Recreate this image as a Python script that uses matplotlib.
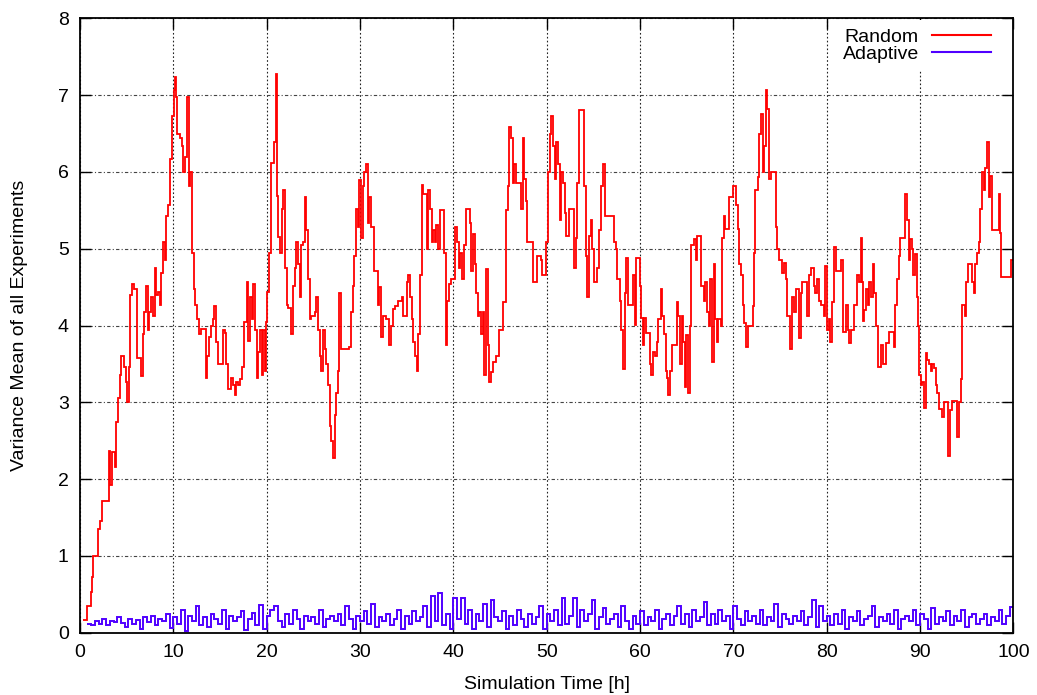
import numpy as np
import matplotlib.pyplot as plt
from matplotlib.lines import Line2D

plt.rcParams['font.family'] = ['Liberation Sans', 'DejaVu Sans']

# axis ticks
x_ticks = [0, 10, 20, 30, 40, 50, 60, 70, 80, 90, 100]
y_ticks = [0, 1, 2, 3, 4, 5, 6, 7, 8]
series_names = ['Random', 'Adaptive']

# Random: (time [h], variance) steps
random_steps = [
    (0.3, 0.17), (0.8, 0.35), (1.17, 0.53), (1.3, 0.72), (1.42, 1.0), (1.97, 1.35), (2.15, 1.45),
    (2.34, 1.72), (3.07, 2.37), (3.25, 1.92), (3.43, 2.35), (3.72, 2.16), (3.87, 2.74), (4.09, 3.05),
    (4.34, 3.36), (4.45, 3.6), (4.71, 3.46), (4.89, 3.26), (5.07, 3.0), (5.25, 3.46), (5.33, 4.4),
    (5.55, 4.54), (5.8, 4.47), (6.06, 3.58), (6.53, 3.34), (6.72, 3.89), (6.9, 4.18), (7.08, 4.51),
    (7.26, 3.94), (7.45, 4.18), (7.63, 4.37), (7.81, 4.13), (8.0, 4.75), (8.18, 4.4), (8.36, 4.44),
    (8.54, 4.27), (8.72, 4.68), (8.9, 5.09), (9.09, 4.85), (9.27, 5.43), (9.45, 5.57), (9.64, 6.17),
    (9.9, 6.73), (10.07, 7.06), (10.18, 7.23), (10.29, 6.97), (10.44, 6.49), (10.73, 6.44),
    (10.91, 6.34), (11.09, 6.0), (11.28, 6.2), (11.46, 6.97), (11.64, 5.81), (11.82, 6.0),
    (12.0, 4.95), (12.19, 4.47), (12.37, 4.27), (12.55, 4.08), (12.74, 3.89), (12.92, 3.96),
    (13.47, 3.31), (13.65, 3.6), (13.83, 3.85), (14.01, 3.99), (14.2, 4.08), (14.38, 4.25),
    (14.56, 3.79), (14.74, 3.5), (15.3, 3.94), (15.5, 3.9), (15.66, 3.5), (15.84, 3.17),
    (16.2, 3.31), (16.39, 3.22), (16.57, 3.1), (16.75, 3.27), (16.93, 3.22), (17.11, 3.3),
    (17.34, 3.46), (17.52, 4.04), (17.87, 4.56), (18.05, 3.8), (18.22, 4.37), (18.4, 4.08),
    (18.58, 4.54), (18.76, 3.94), (18.94, 3.31), (19.11, 3.65), (19.29, 3.94), (19.47, 3.36),
    (19.65, 3.94), (19.82, 3.41), (19.9, 4.04), (20.07, 4.44), (20.28, 4.95), (20.43, 6.12),
    (20.78, 6.39), (20.96, 7.28), (21.06, 5.68), (21.24, 5.15), (21.42, 4.95), (21.6, 5.52),
    (21.77, 5.76), (21.95, 4.75), (22.13, 4.27), (22.3, 4.23), (22.66, 3.89), (22.84, 4.51),
    (23.01, 4.75), (23.19, 5.09), (23.37, 4.8), (23.55, 4.37), (23.72, 5.05), (23.9, 5.09),
    (24.15, 5.67), (24.26, 5.24), (24.43, 4.61), (24.61, 4.08), (24.79, 4.13), (25.14, 4.18),
    (25.32, 4.37), (25.5, 3.94), (25.67, 3.6), (25.85, 3.41), (26.03, 3.94), (26.21, 3.7),
    (26.38, 3.5), (26.56, 3.22), (26.74, 2.69), (26.92, 2.49), (27.09, 2.28), (27.27, 2.83),
    (27.45, 3.12), (27.62, 3.41), (27.8, 4.42), (27.98, 3.7), (28.87, 3.72), (29.04, 4.18),
    (29.22, 4.51), (29.4, 4.9), (29.57, 5.52), (29.75, 5.28), (29.93, 5.9), (30.1, 5.14),
    (30.28, 5.81), (30.46, 6.0), (30.64, 6.1), (30.82, 5.33), (30.99, 5.67), (31.17, 5.28),
    (31.52, 4.71), (31.88, 4.27), (32.06, 4.5), (32.23, 3.85), (32.41, 4.13), (32.77, 4.08),
    (33.12, 3.75), (33.3, 4.0), (33.58, 4.22), (33.76, 4.25), (34.11, 4.32), (34.47, 4.37),
    (34.65, 4.13), (35.0, 4.56), (35.18, 4.66), (35.35, 4.37), (35.53, 4.08), (35.71, 3.79),
    (35.89, 3.6), (36.06, 3.41), (36.24, 3.89), (36.42, 4.66), (36.6, 5.83), (36.77, 5.71),
    (37.13, 5.0), (37.3, 5.76), (37.48, 5.52), (37.66, 5.09), (37.84, 5.24), (38.01, 5.09),
    (38.19, 5.31), (38.37, 5.0), (38.55, 5.5), (39.01, 4.95), (39.18, 3.75), (39.33, 4.32),
    (39.5, 4.54), (39.79, 4.61), (40.21, 5.28), (40.39, 5.09), (40.57, 4.75), (40.74, 4.95),
    (40.92, 4.61), (41.1, 5.05), (41.38, 5.52), (41.74, 5.33), (41.91, 4.71), (42.09, 5.19),
    (42.27, 4.8), (42.45, 4.42), (42.62, 4.13), (42.8, 4.18), (42.98, 3.89), (43.16, 4.18),
    (43.33, 3.36), (43.51, 4.73), (43.69, 3.75), (43.87, 3.26), (44.04, 3.4), (44.22, 3.53),
    (44.57, 3.6), (44.93, 3.94), (45.28, 4.3), (45.64, 5.5), (45.82, 5.81), (45.99, 6.58),
    (46.17, 6.44), (46.35, 5.86), (46.52, 6.1), (46.7, 5.86), (47.23, 5.52), (47.41, 6.44),
    (47.59, 5.91), (47.77, 5.62), (47.94, 5.09), (48.48, 4.56), (49.01, 4.9), (49.36, 4.85),
    (49.54, 4.66), (49.89, 5.09), (50.1, 5.95), (50.14, 6.0), (50.32, 6.49), (50.5, 6.73),
    (50.68, 6.34), (50.86, 5.91), (51.04, 6.39), (51.21, 6.1), (51.39, 5.38), (51.57, 6.0),
    (51.75, 5.86), (51.93, 5.47), (52.11, 5.16), (52.39, 5.52), (52.93, 4.75), (53.11, 5.14),
    (53.29, 5.86), (53.46, 6.8), (54.0, 5.81), (54.18, 4.9), (54.36, 4.37), (54.54, 5.16),
    (54.71, 5.38), (54.89, 5.0), (55.07, 4.56), (55.43, 4.75), (55.61, 5.24), (55.86, 5.81),
    (56.04, 6.1), (56.21, 5.43), (57.21, 5.09), (57.39, 5.0), (57.57, 4.61), (57.86, 4.32),
    (58.0, 3.94), (58.18, 3.43), (58.36, 4.42), (58.54, 4.88), (58.71, 4.27), (59.25, 4.66),
    (59.43, 4.01), (59.57, 4.88), (59.96, 4.52), (60.14, 4.1), (60.29, 3.75), (60.43, 4.1),
    (60.61, 3.9), (61.04, 3.5), (61.21, 3.36), (61.39, 3.65), (61.57, 3.6), (61.79, 3.79),
    (61.96, 4.08), (62.21, 4.47), (62.39, 4.13), (62.57, 3.89), (62.75, 3.41), (62.93, 3.31),
    (63.04, 3.1), (63.21, 3.41), (63.46, 3.75), (63.93, 4.3), (64.11, 4.13), (64.29, 3.5),
    (64.46, 4.13), (64.64, 3.79), (64.79, 3.2), (64.96, 3.87), (65.14, 3.12), (65.32, 3.99),
    (65.5, 5.05), (65.79, 5.12), (65.96, 4.85), (66.14, 5.16), (66.57, 4.52), (66.81, 4.32),
    (66.99, 4.56), (67.16, 4.18), (67.34, 3.99), (67.52, 4.61), (67.7, 3.53), (67.87, 4.8),
    (68.05, 4.08), (68.23, 3.79), (68.4, 4.08), (68.69, 3.99), (68.79, 5.14), (68.94, 5.43),
    (69.11, 5.26), (69.57, 5.67), (69.93, 5.81), (70.28, 5.57), (70.46, 5.26), (70.64, 4.8),
    (70.82, 4.66), (70.99, 4.27), (71.17, 4.03), (71.35, 3.72), (71.52, 3.99), (72.06, 4.25),
    (72.23, 4.95), (72.34, 5.76), (72.59, 5.93), (72.77, 6.49), (72.94, 6.75), (73.12, 6.0),
    (73.3, 6.34), (73.48, 7.06), (73.65, 6.82), (73.83, 5.91), (74.01, 6.0), (74.54, 5.28),
    (74.72, 5.0), (74.89, 4.85), (75.25, 4.68), (75.43, 4.82), (75.6, 4.61), (75.78, 4.13),
    (76.06, 3.7), (76.24, 4.37), (76.49, 4.18), (76.67, 4.47), (77.02, 3.84), (77.2, 4.42),
    (77.38, 4.56), (77.91, 4.13), (78.09, 4.66), (78.33, 4.75), (78.62, 4.51), (78.79, 4.42),
    (78.97, 4.6), (79.15, 4.32), (79.33, 4.27), (79.68, 4.13), (79.86, 4.78), (80.04, 3.94),
    (80.21, 4.08), (80.39, 3.79), (80.57, 4.3), (80.82, 5.02), (80.99, 4.71), (81.56, 4.85),
    (81.7, 3.92), (82.06, 4.27), (82.23, 3.94), (82.41, 3.77), (82.62, 3.94), (82.87, 4.27),
    (83.26, 4.66), (83.44, 4.56), (83.62, 5.14), (83.79, 4.56), (83.9, 4.06), (84.04, 4.2),
    (84.22, 4.47), (84.4, 4.27), (84.57, 4.56), (84.75, 4.37), (84.93, 4.8), (85.11, 4.42),
    (85.28, 3.99), (85.46, 3.46), (85.82, 3.74), (85.99, 3.5), (86.35, 3.77), (86.7, 3.92),
    (87.16, 3.72), (87.34, 4.27), (87.52, 4.61), (87.7, 4.9), (87.87, 5.14), (88.4, 5.71),
    (88.58, 5.38), (88.76, 4.85), (88.94, 5.12), (89.11, 5.0), (89.29, 4.66), (89.47, 4.93),
    (89.65, 4.37), (89.82, 3.99), (89.93, 3.36), (90.07, 3.22), (90.25, 3.26), (90.43, 2.93),
    (90.6, 3.64), (90.78, 3.55), (90.96, 3.5), (91.13, 3.41), (91.31, 3.5), (91.49, 3.45),
    (91.67, 3.22), (91.84, 3.12), (92.02, 2.91), (92.38, 2.81), (92.55, 3.0), (93.01, 2.3),
    (93.19, 2.9), (93.37, 3.02), (93.97, 2.55), (94.15, 3.0), (94.33, 3.3), (94.5, 4.27),
    (94.79, 4.13), (94.96, 4.56), (95.14, 4.8), (95.57, 4.56), (95.74, 4.42), (95.92, 4.8),
    (96.1, 4.95), (96.28, 5.09), (96.45, 5.52), (96.63, 6.0), (96.81, 5.76), (96.99, 6.05),
    (97.16, 6.39), (97.34, 5.67), (97.52, 5.95), (97.7, 5.24), (98.4, 5.71), (98.51, 5.21),
    (98.69, 4.63), (99.75, 4.85),
]

# Adaptive: one value every 0.4 h starting at 0.8 h
adaptive_start = 0.8
adaptive_dt = 0.4
adaptive_var = [
    0.12, 0.10, 0.15, 0.12, 0.18, 0.10, 0.15, 0.14, 0.20, 0.13,
    0.08, 0.18, 0.12, 0.16, 0.05, 0.20, 0.14, 0.22, 0.10, 0.18,
    0.15, 0.25, 0.06, 0.20, 0.12, 0.30, 0.02, 0.22, 0.15, 0.35,
    0.10, 0.20, 0.08, 0.25, 0.18, 0.12, 0.30, 0.05, 0.22, 0.15,
    0.20, 0.28, 0.03, 0.18, 0.26, 0.10, 0.36, 0.05, 0.22, 0.30,
    0.35, 0.15, 0.08, 0.25, 0.12, 0.30, 0.18, 0.05, 0.22, 0.15,
    0.20, 0.12, 0.30, 0.08, 0.18, 0.22, 0.15, 0.25, 0.10, 0.35,
    0.18, 0.05, 0.22, 0.15, 0.28, 0.12, 0.38, 0.08, 0.20, 0.15,
    0.25, 0.10, 0.18, 0.30, 0.05, 0.22, 0.12, 0.28, 0.15, 0.20,
    0.35, 0.08, 0.48, 0.15, 0.52, 0.10, 0.25, 0.05, 0.45, 0.18,
    0.45, 0.12, 0.30, 0.05, 0.25, 0.15, 0.38, 0.08, 0.42, 0.20,
    0.15, 0.28, 0.05, 0.22, 0.10, 0.30, 0.18, 0.08, 0.25, 0.12,
    0.20, 0.35, 0.05, 0.25, 0.15, 0.30, 0.10, 0.45, 0.12, 0.22,
    0.45, 0.08, 0.30, 0.15, 0.25, 0.42, 0.05, 0.20, 0.32, 0.12,
    0.18, 0.25, 0.08, 0.35, 0.15, 0.05, 0.22, 0.12, 0.28, 0.10,
    0.20, 0.15, 0.30, 0.05, 0.18, 0.25, 0.10, 0.22, 0.35, 0.12,
    0.25, 0.08, 0.30, 0.15, 0.20, 0.40, 0.10, 0.25, 0.12, 0.30,
    0.15, 0.22, 0.05, 0.35, 0.18, 0.10, 0.28, 0.15, 0.22, 0.12,
    0.30, 0.10, 0.20, 0.15, 0.38, 0.08, 0.25, 0.18, 0.12, 0.22,
    0.15, 0.28, 0.10, 0.20, 0.42, 0.08, 0.35, 0.15, 0.22, 0.10,
    0.25, 0.12, 0.30, 0.05, 0.20, 0.15, 0.28, 0.10, 0.18, 0.22,
    0.35, 0.08, 0.20, 0.15, 0.25, 0.12, 0.30, 0.05, 0.18, 0.22,
    0.15, 0.30, 0.10, 0.25, 0.18, 0.05, 0.32, 0.12, 0.20, 0.15,
    0.28, 0.10, 0.22, 0.15, 0.30, 0.08, 0.20, 0.25, 0.12, 0.18,
    0.25, 0.10, 0.20, 0.15, 0.30, 0.12, 0.22, 0.33,
]

red = '#ff0000'
blue = '#5000ff'

fig = plt.figure(figsize=(10.37, 6.95), dpi=100)
ax = fig.add_axes([0.0771, 0.0896, 0.9002, 0.8841])

rt = np.array([p[0] for p in random_steps])
rv = np.array([p[1] for p in random_steps])
ax.stairs(rv, np.append(rt, 100), baseline=None, color=red, lw=1.3)

at = adaptive_start + adaptive_dt * np.arange(len(adaptive_var))
ax.stairs(adaptive_var, np.append(at, 100), baseline=None, color=blue, lw=1.4)

ax.set_xlim(0, 100)
ax.set_ylim(0, 8)
ax.set_xticks(x_ticks)
ax.set_yticks(y_ticks)
ax.tick_params(direction='in', length=8, width=1, top=True, right=True,
               labelsize=14, pad=8)

ax.set_axisbelow(True)
ax.xaxis.grid(True, ls=(0, (1.5, 2)), color='#222222', lw=0.8)
ax.yaxis.grid(True, ls=(0, (3, 2, 1, 2)), color='#444444', lw=0.8)
for s in ax.spines.values():
    s.set_linewidth(1.3)

ax.set_xlabel('Simulation Time [h]', fontsize=14)
ax.set_ylabel('Variance Mean of all Experiments', fontsize=14)
ax.xaxis.set_label_coords(0.5, -0.07)
ax.yaxis.set_label_coords(-0.056, 0.5)

handles = [Line2D([], [], color=red, lw=1.5), Line2D([], [], color=blue, lw=1.5)]
ax.legend(handles, series_names, loc='upper right', bbox_to_anchor=(0.984, 0.997),
          markerfirst=False, frameon=True, fancybox=False, edgecolor='none',
          facecolor='white', framealpha=1, fontsize=14, handlelength=3.0,
          handletextpad=0.7, labelspacing=0.0, borderpad=0.4, borderaxespad=0)

fig.savefig('out.png', dpi=100)
